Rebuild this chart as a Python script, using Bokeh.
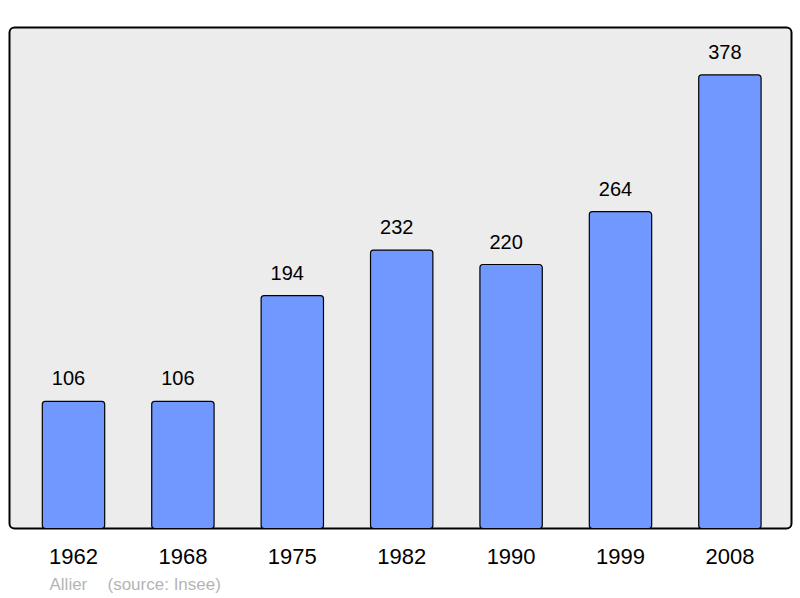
from bokeh.plotting import figure
from bokeh.models import ColumnDataSource, BoxAnnotation, Label, Range1d
from bokeh.core.properties import value
from bokeh.embed import file_html
from bokeh.resources import INLINE

years = ["1962", "1968", "1975", "1982", "1990", "1999", "2008"]
population = [106, 106, 194, 232, 220, 264, 378]
footer_place = "Allier"
footer_source = "(source: Insee)"

idx = list(range(len(years)))
src = ColumnDataSource(dict(x=idx, top=population, years=years,
                            labels=[str(v) for v in population],
                            zero=[0] * len(years)))

W, H = 800, 598
px_per_x = 109.4
x0_px = 73.0        # centre of first bar from canvas left
px_per_y = 1.2
base_px = H - 528.0  # baseline distance from canvas bottom

p = figure(width=W, height=H, output_backend="svg", toolbar_location=None,
           x_range=Range1d(-x0_px / px_per_x, (W - x0_px) / px_per_x),
           y_range=Range1d(-base_px / px_per_y, (H - base_px) / px_per_y),
           min_border=0, outline_line_color=None,
           background_fill_color="white", border_fill_color="white")
p.axis.visible = False
p.grid.visible = False

frame = BoxAnnotation(left=(9 - x0_px) / px_per_x, right=(791 - x0_px) / px_per_x,
                      bottom=0, top=(528 - 27) / px_per_y,
                      fill_color="#ececec", fill_alpha=1.0,
                      line_color="black", line_width=2, line_alpha=1.0,
                      border_radius=5, level="underlay")
p.add_layout(frame)

p.vbar(x="x", top="top", bottom=0, width=0.57, source=src,
       fill_color="#7098ff", line_color="black", line_width=1.2,
       border_radius=3)

p.text(x="x", y="top", text="labels", source=src, x_offset=-5, y_offset=-23,
       text_align="center", text_baseline="middle",
       text_font=value("Liberation Sans"), text_font_size="20px", text_color="black")

p.text(x="x", y="zero", text="years", source=src, y_offset=28,
       text_align="center", text_baseline="middle",
       text_font=value("Liberation Sans"), text_font_size="22px", text_color="black")

p.add_layout(Label(x=49, y=H - 584, x_units="screen", y_units="screen", text=footer_place,
                   text_font="Liberation Sans", text_font_size="17px",
                   text_color="#b5b5b5", text_baseline="middle"))
p.add_layout(Label(x=107, y=H - 584, x_units="screen", y_units="screen", text=footer_source,
                   text_font="Liberation Sans", text_font_size="17px",
                   text_color="#b5b5b5", text_baseline="middle"))

open("out.html", "w").write(file_html(p, INLINE))
